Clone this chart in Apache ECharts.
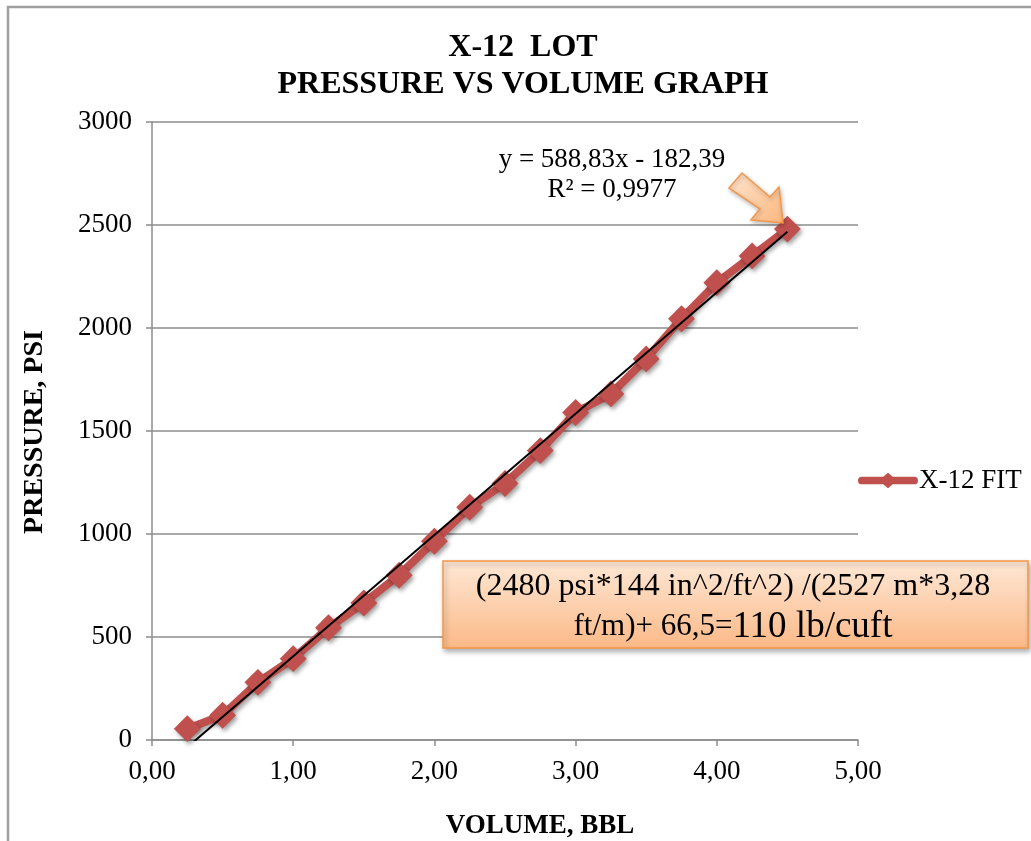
<!DOCTYPE html>
<html>
<head>
<meta charset="utf-8">
<script src="https://cdn.jsdelivr.net/npm/echarts@6/dist/echarts.min.js"></script>
<style>
  html, body { margin: 0; padding: 0; background: #fff; }
  #chart { width: 1031px; height: 841px; }
</style>
</head>
<body>
<div id="chart"></div>
<script>
// Leak-off test readings: pumped volume (bbl) and surface pressure (psi)
const volumes = [0.25, 0.50, 0.75, 1.00, 1.25, 1.50, 1.75, 2.00, 2.25, 2.50,
                 2.75, 3.00, 3.25, 3.50, 3.75, 4.00, 4.25, 4.50];
const pressures = [55, 120, 280, 395, 545, 665, 800, 965, 1130, 1245,
                   1405, 1590, 1680, 1850, 2045, 2220, 2350, 2480];

// Linear trendline coefficients as reported on the chart
const slope = 588.83;
const intercept = -182.39;
const rSquared = '0,9977';

const xTicks = [0, 1, 2, 3, 4, 5];
const yTicks = [0, 500, 1000, 1500, 2000, 2500, 3000];

const serif = '"Liberation Serif", "Times New Roman", serif';
const red = '#C0504D';
const gridColor = '#8C8C8C';

const seriesData = volumes.map((v, i) => [v, pressures[i]]);
const xFirst = volumes[0], xLast = volumes[volumes.length - 1];
const trendData = [
  [xFirst, slope * xFirst + intercept],
  [xLast, slope * xLast + intercept]
];

const chart = echarts.init(document.getElementById('chart'), null, { renderer: 'canvas' });

const option = {
  backgroundColor: '#ffffff',
  animation: false,
  grid: { left: 152, right: 173, top: 122, bottom: 101, containLabel: false },
  xAxis: {
    type: 'value',
    min: xTicks[0], max: xTicks[xTicks.length - 1], interval: 1,
    axisLine: { show: true, lineStyle: { color: gridColor, width: 1.5 } },
    axisTick: { show: true, length: 6, inside: false, lineStyle: { color: gridColor, width: 1.5 } },
    splitLine: { show: false },
    axisLabel: {
      fontFamily: serif, fontSize: 27, color: '#000', margin: 18,
      formatter: v => v.toFixed(2).replace('.', ',')
    }
  },
  yAxis: {
    type: 'value',
    min: yTicks[0], max: yTicks[yTicks.length - 1], interval: 500,
    axisLine: { show: true, lineStyle: { color: gridColor, width: 1.5 } },
    axisTick: { show: true, length: 6, lineStyle: { color: gridColor, width: 1.5 } },
    splitLine: { show: true, lineStyle: { color: gridColor, width: 1.5 } },
    axisLabel: { fontFamily: serif, fontSize: 27, color: '#000', margin: 20, formatter: v => String(v) }
  },
  legend: {
    show: true,
    data: [{
      name: 'X-12 FIT',
      icon: 'path://M3,4 L25,4 L30,0 L35,4 L57,4 A4,4 0 0 1 57,12 L35,12 L30,16 L25,12 L3,12 A4,4 0 0 1 3,4 Z',
      itemStyle: { color: red }
    }],
    left: 853, top: 462,
    itemWidth: 60, itemHeight: 16, itemGap: 4,
    textStyle: { fontFamily: serif, fontSize: 27, color: '#000', padding: [0, 0, 0, -4] }
  },
  series: [
    {
      name: 'X-12 FIT',
      type: 'line',
      data: seriesData,
      symbol: 'rect',
      symbolSize: 19,
      symbolRotate: 45,
      lineStyle: {
        color: red, width: 8,
        shadowColor: 'rgba(0,0,0,0.35)', shadowBlur: 4, shadowOffsetX: 2, shadowOffsetY: 3
      },
      itemStyle: {
        color: red,
        shadowColor: 'rgba(0,0,0,0.35)', shadowBlur: 4, shadowOffsetX: 2, shadowOffsetY: 3
      },
      z: 2
    },
    {
      name: 'trend',
      type: 'line',
      data: trendData,
      symbol: 'none',
      clip: true,
      lineStyle: { color: '#000', width: 2 },
      z: 3,
      silent: true
    }
  ],
  graphic: [
    // outer frame
    { type: 'polyline', shape: { points: [[8, 841], [8, 7], [1031, 7]] },
      style: { stroke: '#A0A0A0', lineWidth: 2.5, fill: null } },
    // title
    { type: 'text', x: 523, y: 48,
      style: { text: 'X-12  LOT', font: 'bold 32px ' + serif, fill: '#000',
               textAlign: 'center', textVerticalAlign: 'middle' } },
    { type: 'text', x: 523, y: 85,
      style: { text: 'PRESSURE VS VOLUME GRAPH', font: 'bold 32px ' + serif, fill: '#000',
               textAlign: 'center', textVerticalAlign: 'middle' } },
    // axis titles
    { type: 'text', x: 540, y: 826,
      style: { text: 'VOLUME, BBL', font: 'bold 27px ' + serif, fill: '#000',
               textAlign: 'center', textVerticalAlign: 'middle' } },
    { type: 'text', x: 35, y: 432, rotation: Math.PI / 2,
      style: { text: 'PRESSURE, PSI', font: 'bold 28px ' + serif, fill: '#000',
               textAlign: 'center', textVerticalAlign: 'middle' } },
    // trendline equation
    { type: 'text', x: 612, y: 175,
      style: {
        text: 'y = ' + slope.toFixed(2).replace('.', ',') + 'x - ' + Math.abs(intercept).toFixed(2).replace('.', ',') +
              '\nR² = ' + rSquared,
        font: '27px ' + serif, fill: '#000', textAlign: 'center', textVerticalAlign: 'middle', lineHeight: 30
      } },
    // callout arrow
    { type: 'polygon',
      shape: { points: [[742, 173], [770, 197], [779, 187], [783, 223], [751, 220], [760, 209], [729, 188]] },
      style: {
        fill: new echarts.graphic.LinearGradient(0, 0, 1, 1, [
          { offset: 0, color: '#FEE5CF' }, { offset: 1, color: '#FBB87F' }
        ]),
        stroke: '#F79646', lineWidth: 1.5,
        shadowColor: 'rgba(0,0,0,0.25)', shadowBlur: 4, shadowOffsetX: 1, shadowOffsetY: 2
      },
      z: 10 },
    // density calculation note
    { type: 'rect', shape: { x: 443, y: 561, width: 585, height: 87 },
      style: {
        fill: new echarts.graphic.LinearGradient(0, 0, 0, 1, [
          { offset: 0, color: '#FEE8D6' }, { offset: 1, color: '#FBB987' }
        ]),
        stroke: '#F79646', lineWidth: 1.5,
        shadowColor: 'rgba(0,0,0,0.3)', shadowBlur: 5, shadowOffsetX: 2, shadowOffsetY: 3
      },
      z: 10 },
    { type: 'text', x: 733, y: 607, z: 11,
      style: {
        text: '(2480 psi*144 in^2/ft^2) /(2527 m*3,28\n{a|ft/m)+ 66,5=}{b|110 lb/cuft}',
        font: '32px ' + serif, fill: '#000', textAlign: 'center', textVerticalAlign: 'middle', lineHeight: 40,
        rich: {
          a: { font: '31px ' + serif, fill: '#000', lineHeight: 40 },
          b: { font: '37px ' + serif, fill: '#000', lineHeight: 40 }
        }
      } }
  ]
};

chart.setOption(option);
</script>
</body>
</html>
